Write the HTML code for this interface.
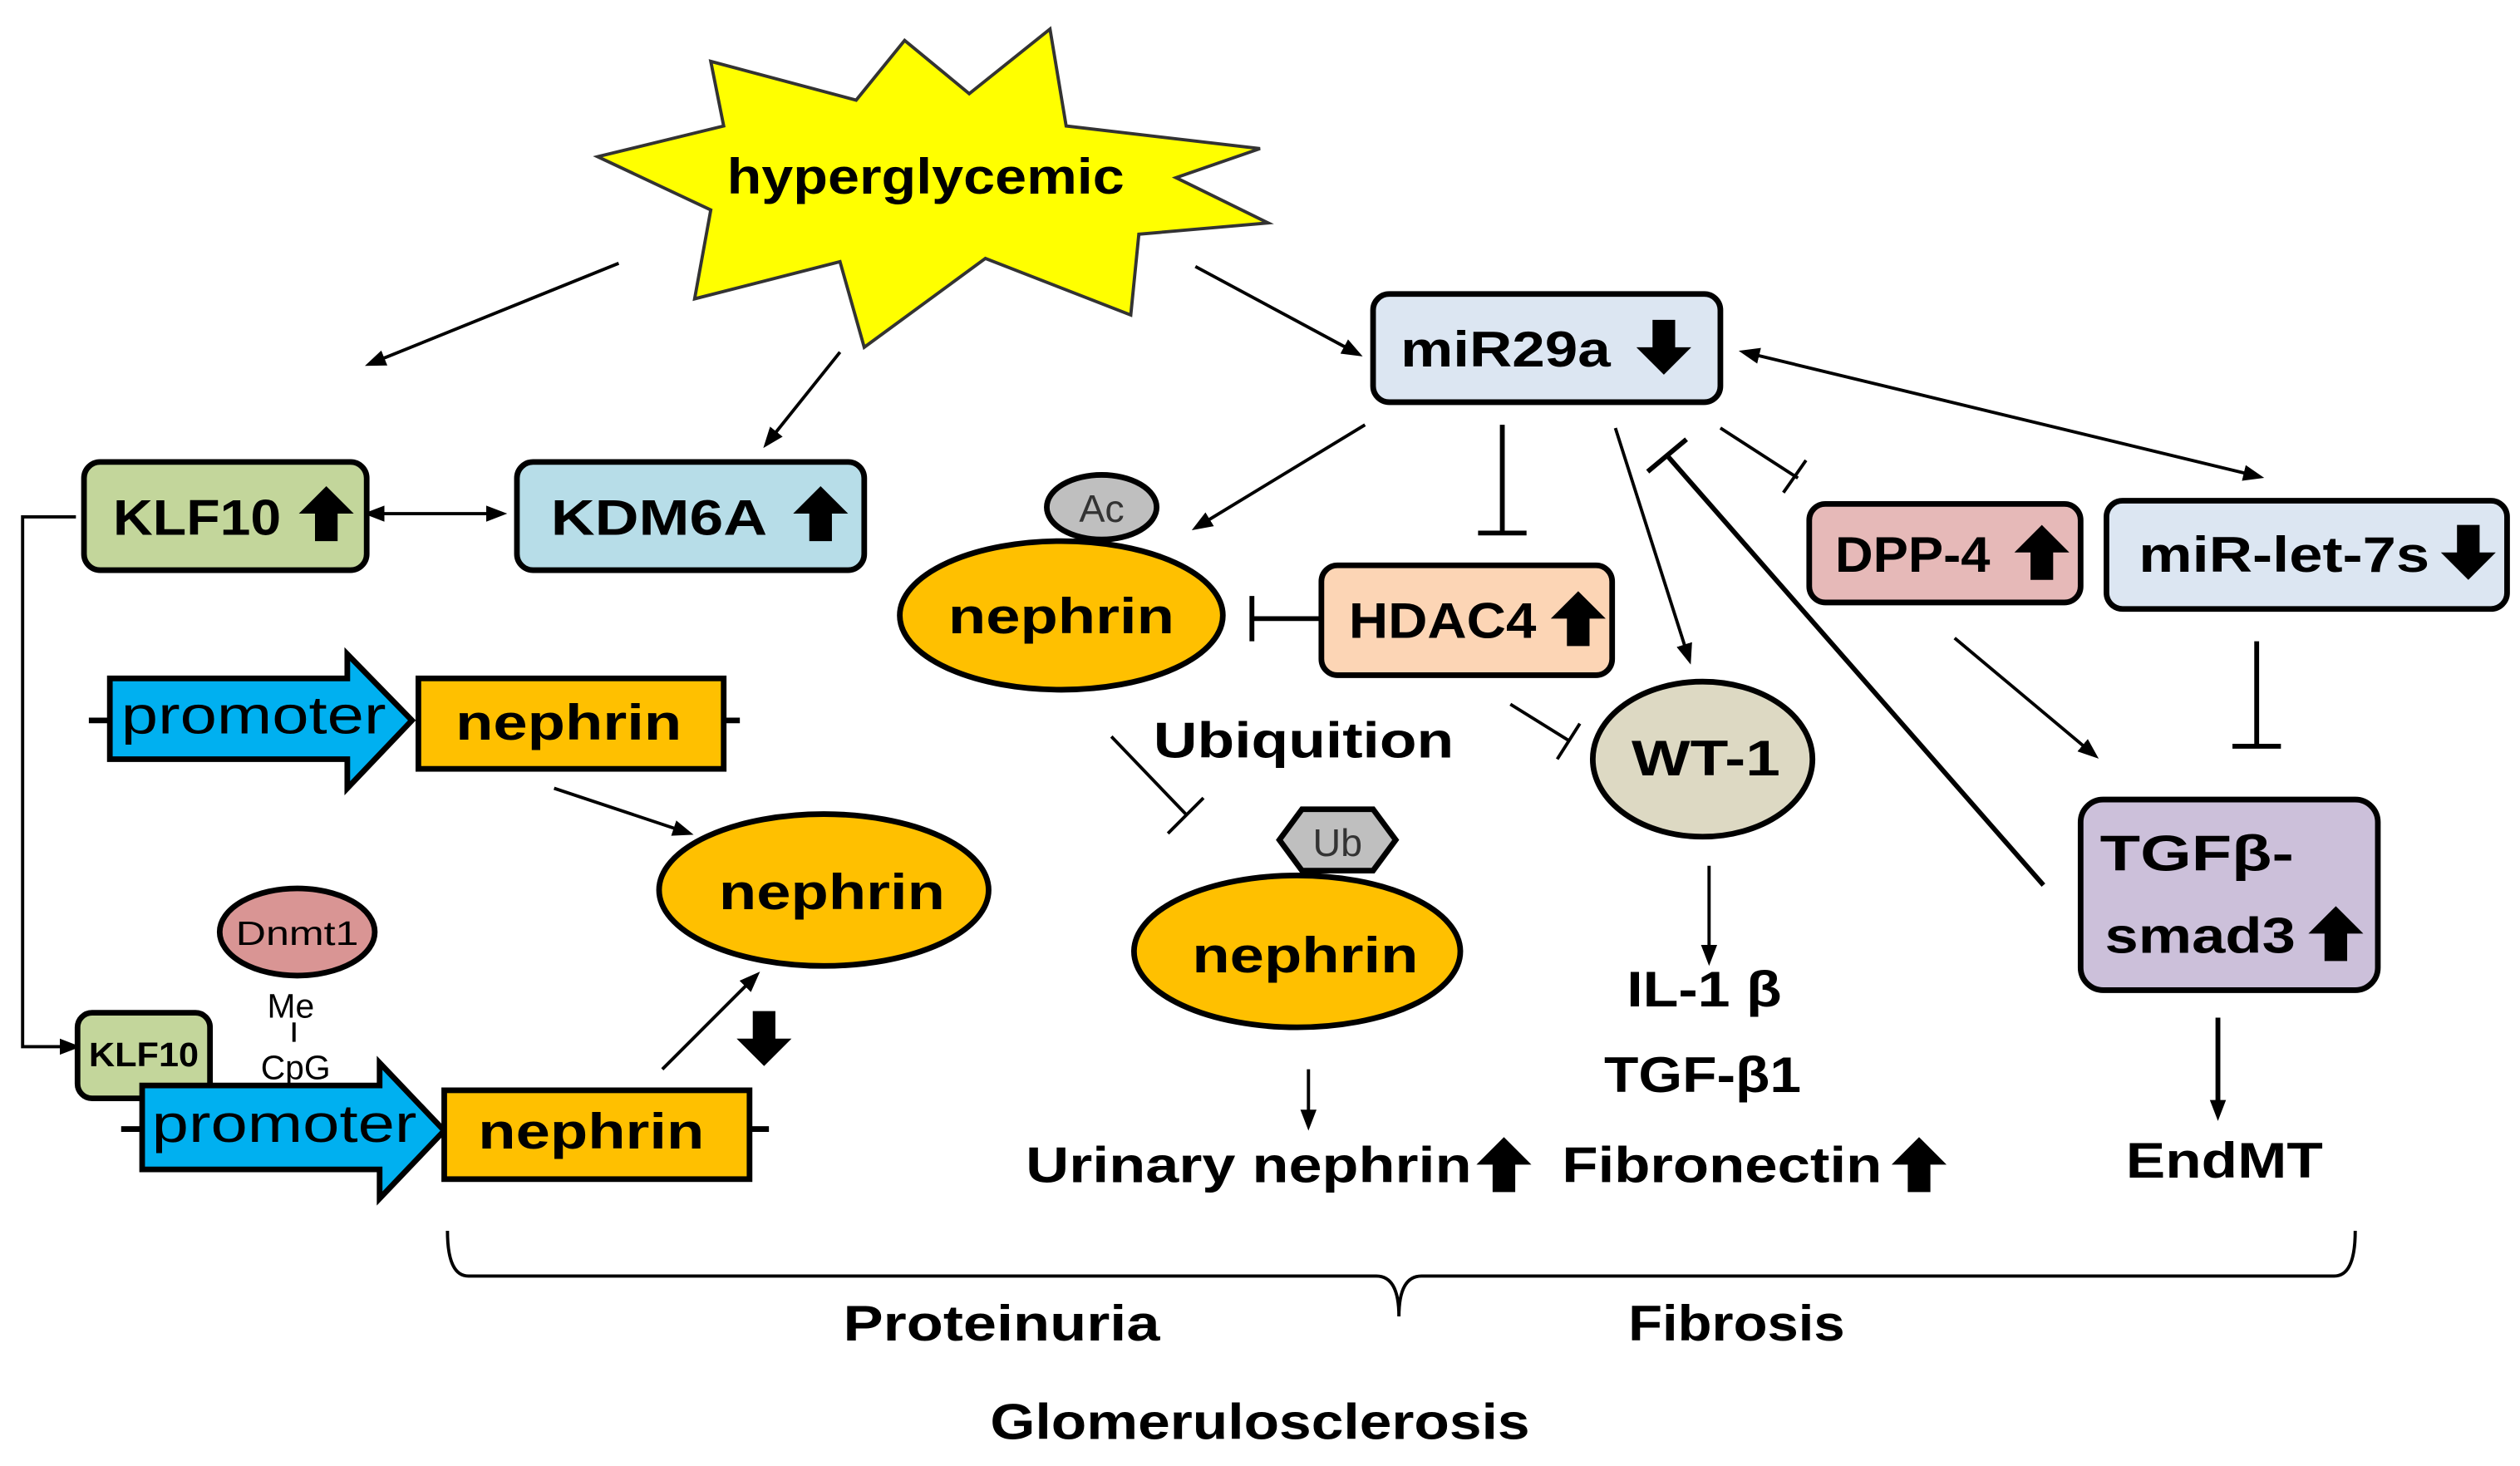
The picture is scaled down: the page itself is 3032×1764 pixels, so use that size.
<!DOCTYPE html>
<html><head><meta charset="utf-8"><style>
html,body{margin:0;padding:0;background:#fff;}
svg{display:block;}
text{font-family:"Liberation Sans",sans-serif;}
.b{font-weight:bold;font-size:31px;}
</style></head><body>
<svg width="3032" height="1764" viewBox="0 0 1560 907.6" preserveAspectRatio="none" xmlns="http://www.w3.org/2000/svg">
<defs>
<marker id="s" markerWidth="14" markerHeight="14" refX="1" refY="7" orient="auto-start-reverse" markerUnits="userSpaceOnUse"><path d="M0,2 L13,7 L0,12 z" fill="#000"/></marker>
<path id="up" d="M0,-17 L17,0 L7,0 L7,17 L-7,17 L-7,0 L-17,0 z" fill="#000"/>
<path id="dn" d="M0,17 L17,0 L7,0 L7,-17 L-7,-17 L-7,0 L-17,0 z" fill="#000"/>
</defs>
<g stroke="#000" stroke-width="2" fill="none">
<polygon points="370,97 448,78 440,38 530,62 560,25 600,58 650,18 660,78 780,92 728,110 785,138 705,145 700,195 610,160 535,215 520,162 430,185 440,130" fill="#ffff00" stroke="#333" stroke-width="2"/>
<line x1="383" y1="163" x2="237" y2="222" marker-end="url(#s)"/>
<line x1="520" y1="218" x2="480" y2="268" marker-end="url(#s)"/>
<line x1="740" y1="165" x2="833" y2="215" marker-end="url(#s)"/>
<line x1="237" y1="318" x2="302" y2="318" marker-start="url(#s)" marker-end="url(#s)"/>
<polyline points="47,320 14,320 14,648 38,648" marker-end="url(#s)"/>
<line x1="343" y1="488" x2="418" y2="513" marker-end="url(#s)"/>
<line x1="410" y1="662" x2="462" y2="610" marker-end="url(#s)"/>
<line x1="845" y1="263" x2="748" y2="322" marker-end="url(#s)"/>
<line x1="930" y1="263" x2="930" y2="330" stroke-width="3"/><line x1="915" y1="330" x2="945" y2="330" stroke-width="3"/>
<line x1="818" y1="383" x2="775" y2="383" stroke-width="3"/><line x1="775" y1="369" x2="775" y2="397" stroke-width="3"/>
<line x1="688" y1="456" x2="735" y2="505"/><line x1="723" y1="516" x2="745" y2="494"/>
<line x1="935" y1="436" x2="972" y2="459"/><line x1="964" y1="470" x2="978" y2="448"/>
<line x1="810" y1="662" x2="810" y2="688" marker-end="url(#s)"/>
<line x1="1000" y1="265" x2="1043" y2="400" marker-end="url(#s)"/>
<line x1="1058" y1="536" x2="1058" y2="586" marker-end="url(#s)"/>
<line x1="1065" y1="265" x2="1113" y2="296"/><line x1="1104" y1="305" x2="1118" y2="285"/>
<line x1="1088" y1="220" x2="1390" y2="293" marker-start="url(#s)" marker-end="url(#s)"/>
<line x1="1397" y1="397" x2="1397" y2="462" stroke-width="3"/><line x1="1382" y1="462" x2="1412" y2="462" stroke-width="3"/>
<line x1="1210" y1="395" x2="1290" y2="462" marker-end="url(#s)"/>
<line x1="1265" y1="548" x2="1032" y2="282" stroke-width="3"/><line x1="1020" y1="292" x2="1044" y2="272" stroke-width="3"/>
<line x1="1373" y1="630" x2="1373" y2="682" stroke-width="3" marker-end="url(#s)"/>
<path d="M277,762 Q277,790 290,790 L852,790 Q866,790 866,815 Q866,790 880,790 L1445,790 Q1458,790 1458,762"/>
<line x1="182" y1="633" x2="182" y2="645"/>
</g>
<g stroke="#000" stroke-width="3.5">
<rect x="850" y="182" width="215" height="67" rx="10" fill="#dce6f2"/>
<rect x="52" y="286" width="175" height="67" rx="10" fill="#c3d69b"/>
<rect x="320" y="286" width="215" height="67" rx="10" fill="#b7dde8"/>
<rect x="818" y="350" width="180" height="68" rx="10" fill="#fcd5b5"/>
<rect x="1120" y="312" width="168" height="61" rx="10" fill="#e6b9b8"/>
<rect x="1304" y="310" width="248" height="67" rx="10" fill="#dce6f2"/>
<rect x="1288" y="495" width="184" height="118" rx="14" fill="#ccc0da"/>
<rect x="48" y="627" width="82" height="53" rx="9" fill="#c3d69b"/>
<line x1="55" y1="446" x2="70" y2="446"/><line x1="448" y1="446" x2="458" y2="446"/>
<polygon points="68,420 215,420 215,405 255,446 215,488 215,470 68,470" fill="#00b0f0"/>
<rect x="259" y="420" width="189" height="56" fill="#ffc000"/>
<line x1="75" y1="699" x2="90" y2="699"/><line x1="464" y1="699" x2="476" y2="699"/>
<polygon points="88,672 235,672 235,658 275,700 235,742 235,724 88,724" fill="#00b0f0"/>
<rect x="275" y="675" width="189" height="55" fill="#ffc000"/>
<ellipse cx="510" cy="551" rx="102" ry="47" fill="#ffc000"/>
<ellipse cx="657" cy="381" rx="100" ry="46" fill="#ffc000"/>
<ellipse cx="803" cy="589" rx="101" ry="47" fill="#ffc000"/>
<ellipse cx="1054" cy="470" rx="68" ry="48" fill="#ddd9c3"/>
<ellipse cx="184" cy="577" rx="48" ry="27" fill="#d99594"/>
<ellipse cx="682" cy="314" rx="34" ry="20" fill="#bfbfbf"/>
<polygon points="792,520 806,501 850,501 864,520 850,539 806,539" fill="#bfbfbf"/>
</g>
<text x="573" y="120" class="b" text-anchor="middle" font-size="33" textLength="246" lengthAdjust="spacingAndGlyphs">hyperglycemic</text>
<text x="932" y="227" class="b" text-anchor="middle" textLength="130" lengthAdjust="spacingAndGlyphs">miR29a</text><use href="#dn" x="1030" y="215"/>
<text x="122" y="331" class="b" text-anchor="middle" textLength="104" lengthAdjust="spacingAndGlyphs">KLF10</text><use href="#up" x="202" y="318"/>
<text x="408" y="331" class="b" text-anchor="middle" textLength="134" lengthAdjust="spacingAndGlyphs">KDM6A</text><use href="#up" x="508" y="318"/>
<text x="893" y="395" class="b" text-anchor="middle" textLength="116" lengthAdjust="spacingAndGlyphs">HDAC4</text><use href="#up" x="977" y="383"/>
<text x="1184" y="354" class="b" text-anchor="middle" textLength="96" lengthAdjust="spacingAndGlyphs">DPP-4</text><use href="#up" x="1264" y="342"/>
<text x="1414" y="354" class="b" text-anchor="middle" textLength="180" lengthAdjust="spacingAndGlyphs">miR-let-7s</text><use href="#dn" x="1528" y="342"/>
<text x="1360" y="539" class="b" text-anchor="middle" textLength="120" lengthAdjust="spacingAndGlyphs">TGFβ-</text>
<text x="1362" y="590" class="b" text-anchor="middle" textLength="118" lengthAdjust="spacingAndGlyphs">smad3</text><use href="#up" x="1446" y="578"/>
<text x="89" y="660" font-weight="bold" font-size="21" text-anchor="middle" textLength="68" lengthAdjust="spacingAndGlyphs">KLF10</text>
<text x="157" y="454" font-size="33" text-anchor="middle" textLength="164" lengthAdjust="spacingAndGlyphs">promoter</text>
<text x="352" y="458" class="b" text-anchor="middle" textLength="140" lengthAdjust="spacingAndGlyphs">nephrin</text>
<text x="176" y="707" font-size="33" text-anchor="middle" textLength="164" lengthAdjust="spacingAndGlyphs">promoter</text>
<text x="366" y="711" class="b" text-anchor="middle" textLength="140" lengthAdjust="spacingAndGlyphs">nephrin</text>
<text x="515" y="563" class="b" text-anchor="middle" textLength="140" lengthAdjust="spacingAndGlyphs">nephrin</text>
<text x="657" y="392" class="b" text-anchor="middle" textLength="140" lengthAdjust="spacingAndGlyphs">nephrin</text>
<text x="808" y="602" class="b" text-anchor="middle" textLength="140" lengthAdjust="spacingAndGlyphs">nephrin</text>
<text x="184" y="585" font-size="21" text-anchor="middle" textLength="76" lengthAdjust="spacingAndGlyphs">Dnmt1</text>
<text x="180" y="630" font-size="21" text-anchor="middle">Me</text>
<text x="183" y="668" font-size="21" text-anchor="middle">CpG</text>
<use href="#dn" x="473" y="643"/>
<text x="682" y="323" font-size="24" text-anchor="middle" fill="#333">Ac</text>
<text x="828" y="530" font-size="24" text-anchor="middle" fill="#333">Ub</text>
<text x="807" y="469" class="b" text-anchor="middle" textLength="186" lengthAdjust="spacingAndGlyphs">Ubiquition</text>
<text x="1056" y="480" class="b" text-anchor="middle" textLength="92" lengthAdjust="spacingAndGlyphs">WT-1</text>
<text x="1055" y="623" class="b" text-anchor="middle" textLength="96" lengthAdjust="spacingAndGlyphs">IL-1 β</text>
<text x="1054" y="676" class="b" text-anchor="middle" textLength="122" lengthAdjust="spacingAndGlyphs">TGF-β1</text>
<text x="1066" y="732" class="b" text-anchor="middle" textLength="198" lengthAdjust="spacingAndGlyphs">Fibronectin</text><use href="#up" x="1188" y="721"/>
<text x="773" y="732" class="b" text-anchor="middle" textLength="276" lengthAdjust="spacingAndGlyphs">Urinary nephrin</text><use href="#up" x="931" y="721"/>
<text x="1377" y="729" class="b" text-anchor="middle" textLength="122" lengthAdjust="spacingAndGlyphs">EndMT</text>
<text x="620" y="830" class="b" text-anchor="middle" textLength="196" lengthAdjust="spacingAndGlyphs">Proteinuria</text>
<text x="1075" y="830" class="b" text-anchor="middle" textLength="134" lengthAdjust="spacingAndGlyphs">Fibrosis</text>
<text x="780" y="891" class="b" text-anchor="middle" textLength="334" lengthAdjust="spacingAndGlyphs">Glomerulosclerosis</text>
</svg>
</body></html>
